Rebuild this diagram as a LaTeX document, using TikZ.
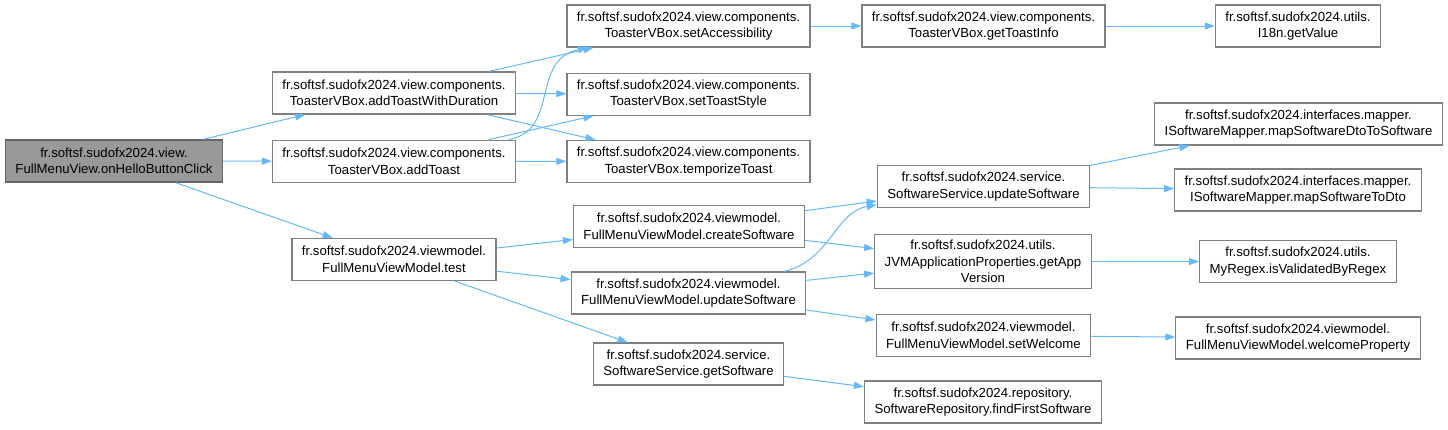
\documentclass[tikz,border=0pt]{standalone}
\usepackage{fontspec}
\setmainfont{Liberation Sans}
\usepackage{tikz}
\usetikzlibrary{positioning, arrows.meta}
\definecolor{edgeBlue}{RGB}{99,184,255}
\definecolor{boxLine}{RGB}{128,128,128}
\definecolor{startFill}{RGB}{153,153,153}
\definecolor{startLine}{RGB}{102,102,102}

\begin{document}
\begin{tikzpicture}[
    x=1pt, y=-1pt,
    node distance=25pt,
    fn/.style={rectangle, draw=boxLine, fill=white, line width=1.2pt, align=center, font=\fontsize{13.2}{16.5}\selectfont, inner xsep=10pt, inner ysep=5.4pt, minimum height=42pt},
    arrow/.style={-{Triangle[length=10pt, width=7pt]}, draw=edgeBlue, line width=1pt}
]
\useasboundingbox (0,0) rectangle (1448,429);

% Nodes
\node[fn, fill=startFill, draw=startLine] (click) at (114,161) {fr.softsf.sudofx2024.view.\\FullMenuView.onHelloButtonClick};
\node[fn] (addDur) at (394,93) {fr.softsf.sudofx2024.view.components.\\ToasterVBox.addToastWithDuration};
\node[fn, below=of addDur] (addToast) {fr.softsf.sudofx2024.view.components.\\ToasterVBox.addToast};
\node[fn] (vmTest) at (394,259.5) {fr.softsf.sudofx2024.viewmodel.\\FullMenuViewModel.test};

\node[fn] (setAcc) at (688.5,26) {fr.softsf.sudofx2024.view.components.\\ToasterVBox.setAccessibility};
\node[fn, below=of setAcc] (setStyle) {fr.softsf.sudofx2024.view.components.\\ToasterVBox.setToastStyle};
\node[fn, below=24pt of setStyle] (temporize) {fr.softsf.sudofx2024.view.components.\\ToasterVBox.temporizeToast};
\node[fn] (createSw) at (689,226.5) {fr.softsf.sudofx2024.viewmodel.\\FullMenuViewModel.createSoftware};
\node[fn] (vmUpdate) at (688.5,293) {fr.softsf.sudofx2024.viewmodel.\\FullMenuViewModel.updateSoftware};
\node[fn] (getSw) at (688.5,364) {fr.softsf.sudofx2024.service.\\SoftwareService.getSoftware};

\node[fn] (toastInfo) at (983.5,26) {fr.softsf.sudofx2024.view.components.\\ToasterVBox.getToastInfo};
\node[fn] (svcUpdate) at (983.5,186.5) {fr.softsf.sudofx2024.service.\\SoftwareService.updateSoftware};
\node[fn] (appVersion) at (983,261.5) {fr.softsf.sudofx2024.utils.\\JVMApplicationProperties.getApp\\Version};
\node[fn] (setWelcome) at (983.5,335.5) {fr.softsf.sudofx2024.viewmodel.\\FullMenuViewModel.setWelcome};
\node[fn] (findFirst) at (983,402) {fr.softsf.sudofx2024.repository.\\SoftwareRepository.findFirstSoftware};

\node[fn] (getValue) at (1298,26) {fr.softsf.sudofx2024.utils.\\I18n.getValue};
\node[fn] (mapDto) at (1298.5,124) {fr.softsf.sudofx2024.interfaces.mapper.\\ISoftwareMapper.mapSoftwareDtoToSoftware};
\node[fn] (mapToDto) at (1298,190) {fr.softsf.sudofx2024.interfaces.mapper.\\ISoftwareMapper.mapSoftwareToDto};
\node[fn] (regex) at (1298,261.5) {fr.softsf.sudofx2024.utils.\\MyRegex.isValidatedByRegex};
\node[fn] (welcome) at (1298,338) {fr.softsf.sudofx2024.viewmodel.\\FullMenuViewModel.welcomeProperty};

% Arrows
\draw[arrow] (click) -- (addDur);
\draw[arrow] (click) -- (addToast);
\draw[arrow] (click) -- (vmTest);
\draw[arrow] (addDur) -- (setAcc);
\draw[arrow] (addDur) -- (setStyle);
\draw[arrow] (addDur) -- (temporize);
\draw[arrow] (addToast) .. controls (560,130) and (530,60) .. (setAcc);
\draw[arrow] (addToast) -- (setStyle);
\draw[arrow] (addToast) -- (temporize);
\draw[arrow] (setAcc) -- (toastInfo);
\draw[arrow] (toastInfo) -- (getValue);
\draw[arrow] (vmTest) -- (createSw);
\draw[arrow] (vmTest) -- (vmUpdate);
\draw[arrow] (vmTest) -- (getSw);
\draw[arrow] (createSw) -- (svcUpdate);
\draw[arrow] (createSw) -- (appVersion);
\draw[arrow] (vmUpdate) .. controls (830,261) and (835,212) .. (svcUpdate);
\draw[arrow] (vmUpdate) -- (appVersion);
\draw[arrow] (vmUpdate) -- (setWelcome);
\draw[arrow] (getSw) -- (findFirst);
\draw[arrow] (svcUpdate) -- (mapDto);
\draw[arrow] (svcUpdate) -- (mapToDto);
\draw[arrow] (appVersion) -- (regex);
\draw[arrow] (setWelcome) -- (welcome);
\end{tikzpicture}
\end{document}
